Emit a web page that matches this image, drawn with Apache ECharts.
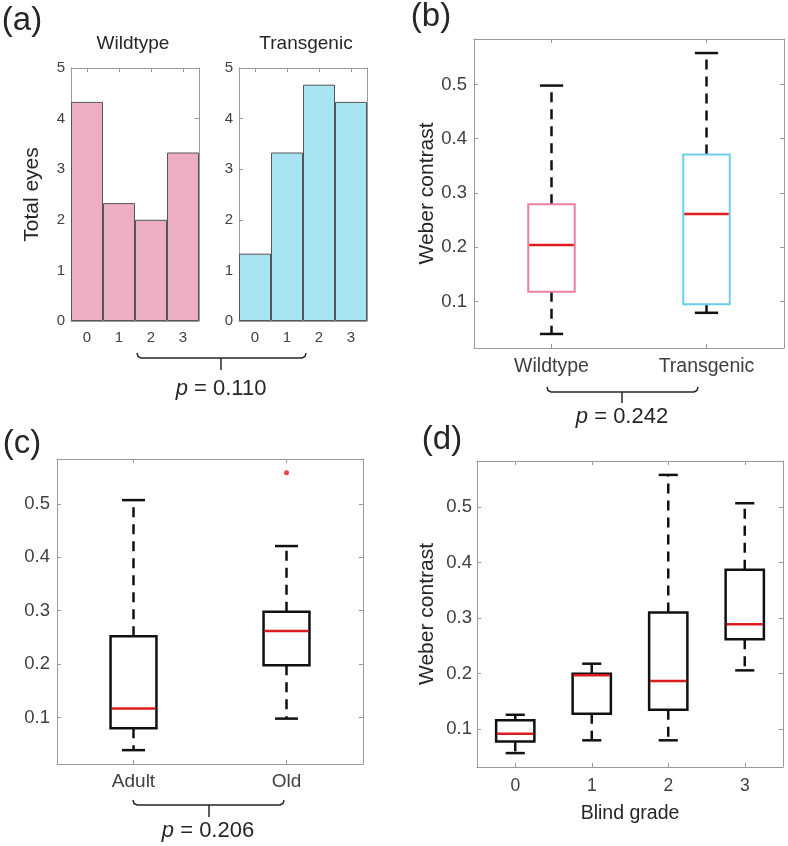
<!DOCTYPE html>
<html><head><meta charset="utf-8">
<script src="https://cdn.jsdelivr.net/npm/echarts@6/dist/echarts.min.js"></script>
<style>html,body{margin:0;padding:0;background:#fff}#c{width:788px;height:846px}</style>
</head><body><div id="c"></div>
<script>
// ---------- data ----------
const gradeCats = ['0', '1', '2', '3'];
const wildtypeEyes = [4.33, 2.33, 2.0, 3.33];
const transgenicEyes = [1.33, 3.33, 4.67, 4.33];

const genoCats = ['Wildtype', 'Transgenic'];
// each box: [lower whisker, Q1, median, Q3, upper whisker]
const genoBoxes = [
  [0.040, 0.118, 0.204, 0.279, 0.498],
  [0.079, 0.095, 0.261, 0.371, 0.558]
];
const ageCats = ['Adult', 'Old'];
const ageBoxes = [
  [0.039, 0.080, 0.117, 0.252, 0.507],
  [0.098, 0.198, 0.262, 0.298, 0.421]
];
const ageOutliers = [['Old', 0.558]];
const gradeBoxes = [
  [0.057, 0.078, 0.092, 0.116, 0.126],
  [0.080, 0.128, 0.197, 0.200, 0.218],
  [0.080, 0.135, 0.187, 0.310, 0.558],
  [0.206, 0.262, 0.289, 0.387, 0.507]
];
const pValues = ['0.110', '0.242', '0.206'];

// ---------- styles ----------
const FONT = '"Liberation Sans", Arial, sans-serif';
const FRAME = '#9a9a9a';
const TICKTXT = '#404040';
const TXT = '#262626';
const PINK_FILL = '#ecaec0', BLUE_FILL = '#a8e4f4';
const PINK_EDGE = '#e8809e', BLUE_EDGE = '#6ccfea';
const MED_RED = '#dc1c1c';

function limits(boxes, extra) {
  let vals = [];
  boxes.forEach(b => vals.push(...b));
  (extra || []).forEach(o => vals.push(o[1]));
  const lo = Math.min(...vals), hi = Math.max(...vals), r = hi - lo;
  return [lo - 0.05 * r, hi + 0.05 * r];
}

const grids = [
  {left: 71, top: 68, width: 128, height: 253},
  {left: 239, top: 68, width: 128, height: 253},
  {left: 474, top: 39, width: 310, height: 309},
  {left: 57, top: 459, width: 306, height: 305},
  {left: 477, top: 461, width: 306, height: 306}
];

const xAxes = [], yAxes = [];
function addX(gi, data, fs, margin, name, nameGap) {
  const base = {
    gridIndex: gi, type: 'category', data,
    axisLine: {show: true, onZero: false, lineStyle: {color: FRAME, width: 1}},
    axisTick: {show: true, inside: true, alignWithLabel: true, length: 4, lineStyle: {color: FRAME}},
    splitLine: {show: false}
  };
  xAxes.push(Object.assign({}, base, {
    position: 'bottom',
    axisLabel: {color: TICKTXT, fontSize: fs, fontFamily: FONT, margin},
    name: name || '', nameLocation: 'middle', nameGap: nameGap || 0,
    nameTextStyle: {color: TXT, fontSize: 19.5, fontFamily: FONT}
  }));
  xAxes.push(Object.assign({}, base, {position: 'top', axisLabel: {show: false}}));
}
function addY(gi, min, max, opts) {
  const base = {
    gridIndex: gi, type: 'value', min, max,
    axisLine: {show: true, onZero: false, lineStyle: {color: FRAME, width: 1}},
    axisTick: {show: true, inside: true, length: 4, lineStyle: {color: FRAME}},
    splitLine: {show: false}
  };
  if (opts.interval) base.interval = opts.interval; else base.splitNumber = 5;
  yAxes.push(Object.assign({}, base, {
    position: 'left',
    axisLabel: {color: TICKTXT, fontSize: opts.fs, fontFamily: FONT, margin: opts.margin,
      showMinLabel: opts.edges, showMaxLabel: opts.edges},
    name: opts.name || '', nameLocation: 'middle', nameGap: opts.nameGap || 0,
    nameTextStyle: {color: TXT, fontSize: opts.nameSize || 21, fontFamily: FONT}
  }));
  yAxes.push(Object.assign({}, base, {position: 'right', axisLabel: {show: false}}));
}

// (a)
addX(0, gradeCats, 15, 9);
addY(0, 0, 5, {interval: 1, fs: 15, margin: 6, edges: true, name: 'Total eyes', nameGap: 28, nameSize: 21});
addX(1, gradeCats, 15, 9);
addY(1, 0, 5, {interval: 1, fs: 15, margin: 6, edges: true});
// (b)
const limB = limits(genoBoxes);
addX(2, genoCats, 19.5, 9);
addY(2, limB[0], limB[1], {fs: 18.5, margin: 7, edges: false, name: 'Weber contrast', nameGap: 36});
// (c)
const limC = limits(ageBoxes, ageOutliers);
addX(3, ageCats, 19, 8);
addY(3, limC[0], limC[1], {fs: 18.5, margin: 7, edges: false});
// (d)
const limD = limits(gradeBoxes);
addX(4, gradeCats, 17.5, 10, 'Blind grade', 37);
addY(4, limD[0], limD[1], {fs: 18.5, margin: 5, edges: false, name: 'Weber contrast', nameGap: 39});

function boxRenderer(boxFrac, edgeColors, edgeWidth) {
  return function (params, api) {
    const x = api.value(0);
    const pMin = api.coord([x, api.value(1)]);
    const pQ1 = api.coord([x, api.value(2)]);
    const pMed = api.coord([x, api.value(3)]);
    const pQ3 = api.coord([x, api.value(4)]);
    const pMax = api.coord([x, api.value(5)]);
    const band = api.size([1, 0])[0];
    const bw = band * boxFrac;
    const cx = pMed[0];
    const edge = edgeColors[params.dataIndex % edgeColors.length];
    const dash = {stroke: '#111', lineWidth: 2.5, lineDash: [10, 7]};
    const solid = {stroke: '#111', lineWidth: 2.5};
    return {
      type: 'group',
      children: [
        {type: 'line', shape: {x1: cx, y1: pQ3[1], x2: cx, y2: pMax[1]}, style: dash},
        {type: 'line', shape: {x1: cx, y1: pQ1[1], x2: cx, y2: pMin[1]}, style: dash},
        {type: 'line', shape: {x1: cx - bw / 4, y1: pMax[1], x2: cx + bw / 4, y2: pMax[1]}, style: solid},
        {type: 'line', shape: {x1: cx - bw / 4, y1: pMin[1], x2: cx + bw / 4, y2: pMin[1]}, style: solid},
        {type: 'rect', shape: {x: cx - bw / 2, y: pQ3[1], width: bw, height: pQ1[1] - pQ3[1]},
          style: {fill: '#fff', stroke: edge, lineWidth: edgeWidth}},
        {type: 'line', shape: {x1: cx - bw / 2 + 1, y1: pMed[1], x2: cx + bw / 2 - 1, y2: pMed[1]},
          style: {stroke: MED_RED, lineWidth: 2.5}}
      ]
    };
  };
}
function boxData(boxes) { return boxes.map((b, i) => [i].concat(b)); }

const series = [
  {type: 'bar', xAxisIndex: 0, yAxisIndex: 0, data: wildtypeEyes, barCategoryGap: '0%',
    itemStyle: {color: PINK_FILL, borderColor: '#555', borderWidth: 1}},
  {type: 'bar', xAxisIndex: 2, yAxisIndex: 2, data: transgenicEyes, barCategoryGap: '0%',
    itemStyle: {color: BLUE_FILL, borderColor: '#555', borderWidth: 1}},
  {type: 'custom', xAxisIndex: 4, yAxisIndex: 4, data: boxData(genoBoxes),
    encode: {x: 0, y: [1, 2, 3, 4, 5]},
    renderItem: boxRenderer(0.30, [PINK_EDGE, BLUE_EDGE], 2)},
  {type: 'custom', xAxisIndex: 6, yAxisIndex: 6, data: boxData(ageBoxes),
    encode: {x: 0, y: [1, 2, 3, 4, 5]},
    renderItem: boxRenderer(0.30, ['#111'], 2.5)},
  {type: 'scatter', xAxisIndex: 6, yAxisIndex: 6, data: ageOutliers, symbol: 'circle', symbolSize: 5,
    itemStyle: {color: '#ee1111'}},
  {type: 'custom', xAxisIndex: 8, yAxisIndex: 8, data: boxData(gradeBoxes),
    encode: {x: 0, y: [1, 2, 3, 4, 5]},
    renderItem: boxRenderer(0.50, ['#111'], 2.5)}
];

function txt(x, y, text, size, extra) {
  return {type: 'text', x, y, style: Object.assign({text, fill: TXT, fontSize: size,
    fontFamily: FONT, textAlign: 'center', textVerticalAlign: 'middle'}, extra || {})};
}
function pText(x, y, val) {
  return {type: 'text', x, y, style: {
    text: '{i|p} = ' + val, fill: TXT, fontSize: 22, fontFamily: FONT,
    textAlign: 'center', textVerticalAlign: 'middle',
    rich: {i: {fontStyle: 'italic', fontSize: 22, fontFamily: FONT, fill: TXT}}
  }};
}
function bracket(x1, x2, y, cx, yDown) {
  return [
    {type: 'polyline', shape: {points: [[x1, y - 5], [x1 + 1, y - 1.5], [x1 + 4, y], [x2 - 4, y], [x2 - 1, y - 1.5], [x2, y - 5]]},
      style: {stroke: TXT, lineWidth: 1.5, fill: null}},
    {type: 'line', shape: {x1: cx, y1: y, x2: cx, y2: yDown}, style: {stroke: TXT, lineWidth: 1.5}}
  ];
}

const graphic = [
  txt(22, 21, '(a)', 33),
  txt(431, 17, '(b)', 33),
  txt(22, 444, '(c)', 33),
  txt(442, 440, '(d)', 33),
  txt(133, 44, 'Wildtype', 19),
  txt(306, 44, 'Transgenic', 19),
  ...bracket(137, 306, 358, 221, 370),
  ...bracket(547, 698, 392, 622, 403),
  ...bracket(133, 284, 805, 209, 817),
  pText(221, 389, pValues[0]),
  pText(622, 417, pValues[1]),
  pText(208, 831, pValues[2])
];

const chart = echarts.init(document.getElementById('c'), null, {renderer: 'canvas'});
chart.setOption({
  backgroundColor: '#fff',
  animation: false,
  grid: grids,
  xAxis: xAxes,
  yAxis: yAxes,
  series,
  graphic
});
</script>
</body></html>
